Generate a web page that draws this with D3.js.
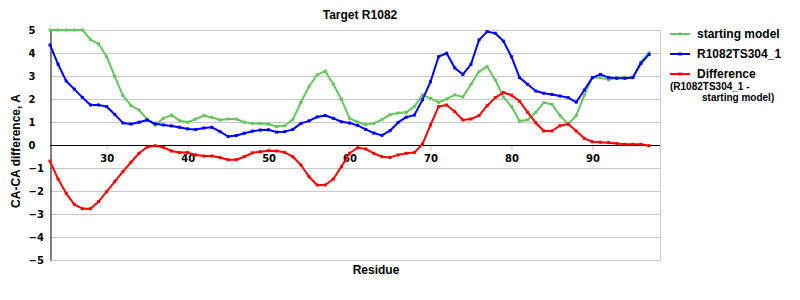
<!DOCTYPE html>
<html>
<head>
<meta charset="utf-8">
<script src="https://cdn.jsdelivr.net/npm/d3@7"></script>
<style>
  body { margin: 0; background: #fff; }
  svg { display: block; }
</style>
</head>
<body>
<svg id="chart"></svg>
<script>
var residues = [23, 24, 25, 26, 27, 28, 29, 30, 31, 32, 33, 34, 35, 36, 37, 38, 39, 40, 41, 42,
  43, 44, 45, 46, 47, 48, 49, 50, 51, 52, 53, 54, 55, 56, 57, 58, 59, 60, 61, 62,
  63, 64, 65, 66, 67, 68, 69, 70, 71, 72, 73, 74, 75, 76, 77, 78, 79, 80, 81, 82,
  83, 84, 85, 86, 87, 88, 89, 90, 91, 92, 93, 94, 95, 96, 97];

var startingModel = [5.0, 5.0, 5.0, 5.0, 5.0, 4.58, 4.40, 3.84, 2.98, 2.15, 1.72, 1.52, 1.12, 0.86, 1.16, 1.30, 1.06, 0.99, 1.13, 1.28,
  1.20, 1.09, 1.13, 1.13, 0.99, 0.94, 0.94, 0.91, 0.80, 0.84, 1.11, 1.86, 2.55, 3.05, 3.21, 2.64, 1.98, 1.16, 1.00, 0.89,
  0.94, 1.10, 1.32, 1.39, 1.42, 1.67, 2.17, 2.03, 1.86, 2.00, 2.18, 2.09, 2.64, 3.19, 3.41, 2.83, 2.09, 1.67, 1.04, 1.09,
  1.42, 1.84, 1.77, 1.28, 0.91, 1.28, 2.17, 2.93, 2.93, 2.83, 2.93, 2.94, 2.94, 3.62, 4.01];

var ts304 = [4.35, 3.51, 2.78, 2.43, 2.07, 1.74, 1.74, 1.67, 1.33, 0.96, 0.91, 0.99, 1.09, 0.92, 0.87, 0.83, 0.77, 0.70, 0.67, 0.74,
  0.77, 0.58, 0.37, 0.41, 0.51, 0.60, 0.65, 0.66, 0.56, 0.58, 0.68, 0.94, 1.05, 1.22, 1.28, 1.16, 1.01, 0.96, 0.85, 0.68,
  0.52, 0.42, 0.62, 0.98, 1.21, 1.30, 1.96, 2.75, 3.84, 3.99, 3.35, 3.07, 3.51, 4.57, 4.93, 4.86, 4.52, 3.84, 2.93, 2.64,
  2.35, 2.25, 2.20, 2.13, 2.06, 1.86, 2.39, 2.93, 3.07, 2.93, 2.90, 2.90, 2.93, 3.55, 3.94];

var difference = [-0.70, -1.48, -2.10, -2.58, -2.77, -2.77, -2.46, -2.03, -1.59, -1.16, -0.75, -0.36, -0.09, -0.03, -0.10, -0.26, -0.33, -0.33, -0.43, -0.48,
  -0.48, -0.54, -0.64, -0.64, -0.51, -0.34, -0.29, -0.25, -0.26, -0.32, -0.51, -0.87, -1.38, -1.74, -1.74, -1.48, -0.94, -0.36, -0.12, -0.17,
  -0.36, -0.51, -0.54, -0.43, -0.36, -0.33, 0.03, 0.87, 1.67, 1.74, 1.45, 1.09, 1.13, 1.28, 1.71, 2.06, 2.28, 2.17, 1.91, 1.42,
  0.97, 0.61, 0.61, 0.84, 0.91, 0.61, 0.29, 0.14, 0.12, 0.10, 0.07, 0.03, 0.03, 0.03, -0.03];

var xTicks = [30, 40, 50, 60, 70, 80, 90];
var yTicks = [-5, -4, -3, -2, -1, 0, 1, 2, 3, 4, 5];

var seriesNames = ["starting model", "R1082TS304_1", "Difference"];
var seriesColors = ["#66c55e", "#0000ff", "#ff0000"];

drawChart();

function drawChart(){

  var w = 800;
  var h = 300;
  var plotLeft = 50, plotRight = 660, plotTop = 30, plotBottom = 260;

  var svg = d3.select("#chart")
    .attr("width", w)
    .attr("height", h);

  var x = d3.scaleLinear().domain([23, 98.35]).range([plotLeft, plotRight]);
  var y = d3.scaleLinear().domain([-5, 5]).range([plotBottom, plotTop]);

  // horizontal grid
  svg.append("g")
    .selectAll("line")
    .data(yTicks.filter(function(d) { return d !== 0; }))
    .enter()
    .append("line")
    .attr("x1", plotLeft)
    .attr("x2", plotRight)
    .attr("y1", function(d) { return y(d) + 0.5; })
    .attr("y2", function(d) { return y(d) + 0.5; })
    .attr("stroke", "#c8c8c8")
    .attr("stroke-width", 1);

  // right border
  svg.append("line")
    .attr("x1", plotRight + 0.5).attr("x2", plotRight + 0.5)
    .attr("y1", plotTop).attr("y2", plotBottom + 1)
    .attr("stroke", "#c8c8c8");

  // x axis sits on zero
  var xAxis = d3.axisBottom(x)
    .tickValues(xTicks)
    .tickSize(5)
    .tickPadding(4)
    .tickFormat(d3.format("d"));

  var gx = svg.append("g")
    .attr("transform", "translate(0," + (y(0) + 0.5) + ")")
    .call(xAxis);
  gx.select(".domain").remove();
  gx.selectAll(".tick line").attr("stroke", "#c8c8c8");
  gx.selectAll(".tick text")
    .attr("fill", "#000")
    .style("font-family", "'DejaVu Sans'")
    .style("font-weight", "bold")
    .style("font-size", "10px");

  svg.append("line")
    .attr("x1", plotLeft).attr("x2", plotRight)
    .attr("y1", y(0) + 0.5).attr("y2", y(0) + 0.5)
    .attr("stroke", "#000");

  // y axis
  var yAxis = d3.axisLeft(y)
    .tickValues(yTicks)
    .tickSize(0)
    .tickFormat(function(d) { return d < 0 ? "\u2212" + Math.abs(d) : d; });

  var gy = svg.append("g")
    .attr("transform", "translate(" + (plotLeft + 0.5) + ",0)")
    .call(yAxis);
  gy.select(".domain").attr("stroke", "#000");
  gy.selectAll(".tick text")
    .attr("x", 28 - plotLeft)
    .attr("text-anchor", "start")
    .attr("fill", "#000")
    .style("font-family", "'DejaVu Sans'")
    .style("font-weight", "bold")
    .style("font-size", "10px");

  // lines + point markers
  var allSeries = [startingModel, ts304, difference];

  var line = d3.line()
    .x(function(d) { return x(d[0]); })
    .y(function(d) { return y(d[1]); });

  allSeries.forEach(function(vals, i) {
    var pts = residues.map(function(r, j) { return [r, vals[j]]; });

    svg.append("path")
      .datum(pts)
      .attr("fill", "none")
      .attr("stroke", seriesColors[i])
      .attr("stroke-width", 2)
      .attr("stroke-linejoin", "round")
      .attr("d", line);

    svg.append("g")
      .selectAll("rect")
      .data(pts)
      .enter()
      .append("rect")
      .attr("x", function(d) { return x(d[0]) - 1.5; })
      .attr("y", function(d) { return y(d[1]) - 1.5; })
      .attr("width", 3)
      .attr("height", 3)
      .attr("fill", seriesColors[i]);
  });

  // title
  svg.append("text")
    .attr("x", 360)
    .attr("y", 19)
    .attr("text-anchor", "middle")
    .style("font-family", "'Liberation Sans', Arial")
    .style("font-weight", "bold")
    .style("font-size", "12px")
    .text("Target R1082");

  // axis titles
  svg.append("text")
    .attr("transform", "translate(20,151) rotate(-90)")
    .attr("text-anchor", "middle")
    .style("font-family", "'Liberation Sans', Arial")
    .style("font-weight", "bold")
    .style("font-size", "12px")
    .text("CA-CA difference, A");

  svg.append("text")
    .attr("x", 376)
    .attr("y", 274)
    .attr("text-anchor", "middle")
    .style("font-family", "'Liberation Sans', Arial")
    .style("font-weight", "bold")
    .style("font-size", "12px")
    .text("Residue");

  // legend
  var legendY = [34, 54, 74];

  var legend = svg.append("g");
  seriesNames.forEach(function(name, i) {
    legend.append("line")
      .attr("x1", 670).attr("x2", 690)
      .attr("y1", legendY[i]).attr("y2", legendY[i])
      .attr("stroke", seriesColors[i])
      .attr("stroke-width", 2);
    legend.append("rect")
      .attr("x", 678.5).attr("y", legendY[i] - 1.5)
      .attr("width", 3).attr("height", 3)
      .attr("fill", seriesColors[i]);
    legend.append("text")
      .attr("x", 697)
      .attr("y", legendY[i] + 4)
      .style("font-family", "'Liberation Sans', Arial")
      .style("font-weight", "bold")
      .style("font-size", "12px")
      .text(name);
  });

  legend.append("text")
    .attr("x", 670)
    .attr("y", 90)
    .style("font-family", "'Liberation Sans', Arial")
    .style("font-weight", "bold")
    .style("font-size", "10px")
    .text("(R1082TS304_1 -");

  legend.append("text")
    .attr("x", 702)
    .attr("y", 101)
    .style("font-family", "'Liberation Sans', Arial")
    .style("font-weight", "bold")
    .style("font-size", "10px")
    .text("starting model)");
}
</script>
</body>
</html>
